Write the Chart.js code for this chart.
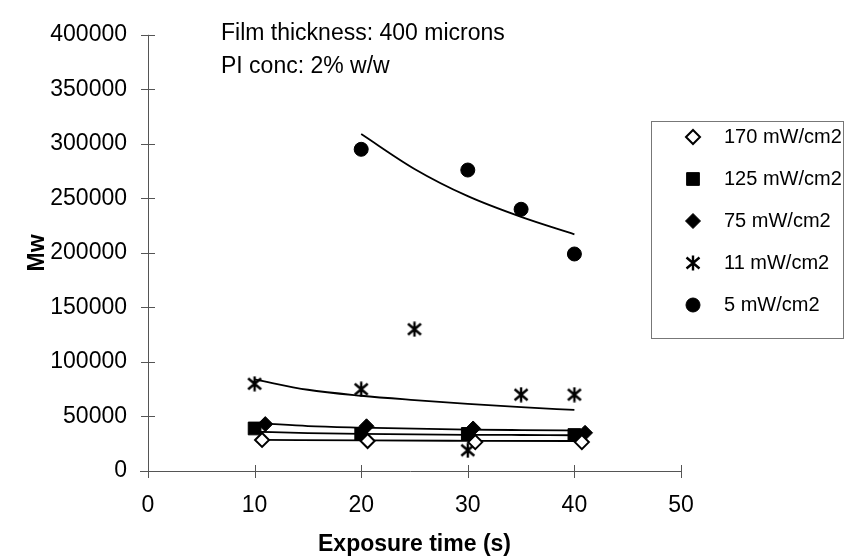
<!DOCTYPE html>
<html>
<head>
<meta charset="utf-8">
<script src="https://cdn.jsdelivr.net/npm/chart.js@4.4.1/dist/chart.umd.min.js"></script>
<style>
  html, body { margin: 0; padding: 0; background: #fff; }
  canvas { display: block; }
</style>
</head>
<body>
<canvas id="chart" width="845" height="556"></canvas>
<script>
// Values
const seriesNames = ['170 mW/cm2', '125 mW/cm2', '75 mW/cm2', '11 mW/cm2', '5 mW/cm2'];

const x170 = [10.7, 20.6, 30.7, 40.7];
const y170 = [28500, 27500, 26500, 26500];
const x125 = [10, 20, 30, 40];
const y125 = [39000, 34000, 34000, 33000];
const x75 = [11, 20.5, 30.5, 41];
const y75 = [43000, 41000, 39000, 35000];
const x11 = [10, 20, 25, 30, 35, 40];
const y11 = [80000, 75000, 130000, 19000, 70000, 70000];
const x5 = [20, 30, 35, 40];
const y5 = [295000, 276000, 240000, 199000];

// Trend lines (power fits in the original), read at a few x positions
const trendX170 = [10.7, 20.6, 30.7, 40.7];
const trendY170 = [28600, 28000, 27700, 27500];
const trendX125 = [10, 15, 20, 25, 30, 35, 40];
const trendY125 = [36000, 34800, 34000, 33500, 33200, 33000, 32800];
const trendX75 = [11, 15, 20, 25, 30, 35, 41];
const trendY75 = [43500, 41200, 39800, 38800, 38000, 37500, 37000];
const trendX11 = [10, 15, 20, 25, 30, 35, 40];
const trendY11 = [84000, 74500, 69000, 65000, 61500, 58500, 56000];
const trendX5 = [20, 25, 30, 35, 40];
const trendY5 = [309000, 277000, 252000, 233000, 217000];

const xTickStep = 10;
const yTickStep = 50000;
const notes = ['Film thickness: 400 microns', 'PI conc: 2% w/w'];

const FONT = "'Liberation Sans', Arial, sans-serif";
Chart.defaults.font.family = FONT;
Chart.defaults.color = '#000';

function toPoints(xs, ys) {
    return xs.map((x, i) => ({ x: x, y: ys[i] }));
}

// asterisk marker (an x with a vertical stroke)
const star = document.createElement('canvas');
star.width = 16;
star.height = 16;
(function () {
    const c = star.getContext('2d');
    c.strokeStyle = '#000';
    c.lineWidth = 2.4;
    c.beginPath();
    c.moveTo(8, 0.5); c.lineTo(8, 15.5);
    c.moveTo(1.5, 2.5); c.lineTo(14.5, 13.5);
    c.moveTo(1.5, 13.5); c.lineTo(14.5, 2.5);
    c.stroke();
})();

const markers = [
    { pointStyle: 'rectRot', radius: 7, fill: '#fff', border: 2 },
    { pointStyle: 'rect', radius: 9, fill: '#000', border: 1 },
    { pointStyle: 'rectRot', radius: 7.5, fill: '#000', border: 1 },
    { pointStyle: star, radius: 8, fill: '#000', border: 1 },
    { pointStyle: 'circle', radius: 7, fill: '#000', border: 1 }
];

function pointSet(i, xs, ys) {
    const m = markers[i];
    return {
        label: seriesNames[i],
        data: toPoints(xs, ys),
        showLine: false,
        pointStyle: m.pointStyle,
        pointRadius: m.radius,
        pointBackgroundColor: m.fill,
        pointBorderColor: '#000',
        pointBorderWidth: m.border,
        order: 0
    };
}

function trendSet(xs, ys) {
    return {
        label: 'trend',
        data: toPoints(xs, ys),
        showLine: true,
        borderColor: '#000',
        borderWidth: 1.8,
        pointRadius: 0,
        cubicInterpolationMode: 'monotone',
        order: 1
    };
}

// axis lines with ticks crossing them, like the original
const axesPlugin = {
    id: 'axes',
    beforeDatasetsDraw(chart) {
        const ctx = chart.ctx;
        const a = chart.chartArea;
        const xs = chart.scales.x, ys = chart.scales.y;
        ctx.save();
        ctx.strokeStyle = '#555';
        ctx.lineWidth = 1;
        ctx.beginPath();
        ctx.moveTo(a.left + 0.5, a.top);
        ctx.lineTo(a.left + 0.5, a.bottom);
        ctx.moveTo(a.left - 8, a.bottom + 0.5);
        ctx.lineTo(a.right, a.bottom + 0.5);
        ys.ticks.forEach(t => {
            const y = Math.round(ys.getPixelForValue(t.value)) + 0.5;
            ctx.moveTo(a.left - 7, y);
            ctx.lineTo(a.left + 7, y);
        });
        xs.ticks.forEach(t => {
            const x = Math.round(xs.getPixelForValue(t.value)) + 0.5;
            ctx.moveTo(x, a.bottom - 6);
            ctx.lineTo(x, a.bottom + 7);
        });
        ctx.stroke();
        ctx.restore();
    }
};

// text notes and the boxed legend
const extrasPlugin = {
    id: 'extras',
    afterDraw(chart) {
        const ctx = chart.ctx;
        ctx.save();
        ctx.fillStyle = '#000';
        ctx.font = '23px ' + FONT;
        ctx.textAlign = 'left';
        ctx.textBaseline = 'alphabetic';
        ctx.fillText(notes[0], 221, 40);
        ctx.fillText(notes[1], 221, 73);

        ctx.strokeStyle = '#777';
        ctx.lineWidth = 1;
        ctx.strokeRect(651.5, 121.5, 192, 217);

        ctx.font = '20px ' + FONT;
        ctx.textBaseline = 'middle';
        seriesNames.forEach((name, i) => {
            const y = 137 + i * 42;
            const m = markers[i];
            ctx.fillStyle = m.fill;
            ctx.strokeStyle = '#000';
            ctx.lineWidth = m.border;
            Chart.helpers.drawPoint(ctx, {
                pointStyle: m.pointStyle,
                radius: m.radius,
                borderWidth: m.border,
                rotation: 0
            }, 693, y);
            ctx.fillStyle = '#000';
            ctx.fillText(name, 724, y);
        });
        ctx.restore();
    }
};

const chart = new Chart(document.getElementById('chart'), {
    type: 'scatter',
    data: {
        datasets: [
            pointSet(0, x170, y170),
            pointSet(1, x125, y125),
            pointSet(2, x75, y75),
            pointSet(3, x11, y11),
            pointSet(4, x5, y5),
            trendSet(trendX170, trendY170),
            trendSet(trendX125, trendY125),
            trendSet(trendX75, trendY75),
            trendSet(trendX11, trendY11),
            trendSet(trendX5, trendY5)
        ]
    },
    options: {
        responsive: false,
        animation: false,
        layout: { padding: { left: 0, right: 164, top: 23, bottom: 0 } },
        plugins: {
            legend: { display: false },
            tooltip: { enabled: false }
        },
        scales: {
            x: {
                type: 'linear',
                min: 0,
                max: 50,
                ticks: { stepSize: xTickStep, padding: 21, font: { size: 23 } },
                grid: { display: false, drawTicks: false },
                border: { display: false },
                title: {
                    display: true,
                    text: 'Exposure time (s)',
                    font: { size: 23, weight: 'bold', lineHeight: 1 },
                    padding: { top: 0, bottom: 0 }
                },
                afterFit(scale) { scale.height = 85; }
            },
            y: {
                min: 0,
                max: 400000,
                ticks: {
                    stepSize: yTickStep,
                    padding: 21,
                    font: { size: 23 },
                    callback: v => String(v)
                },
                grid: { display: false, drawTicks: false },
                border: { display: false },
                title: {
                    display: true,
                    text: 'Mw',
                    font: { size: 23, weight: 'bold', lineHeight: 1 },
                    padding: { top: 26, bottom: 0 }
                },
                afterFit(scale) { scale.width = 148; }
            }
        }
    },
    plugins: [axesPlugin, extrasPlugin]
});
</script>
</body>
</html>
